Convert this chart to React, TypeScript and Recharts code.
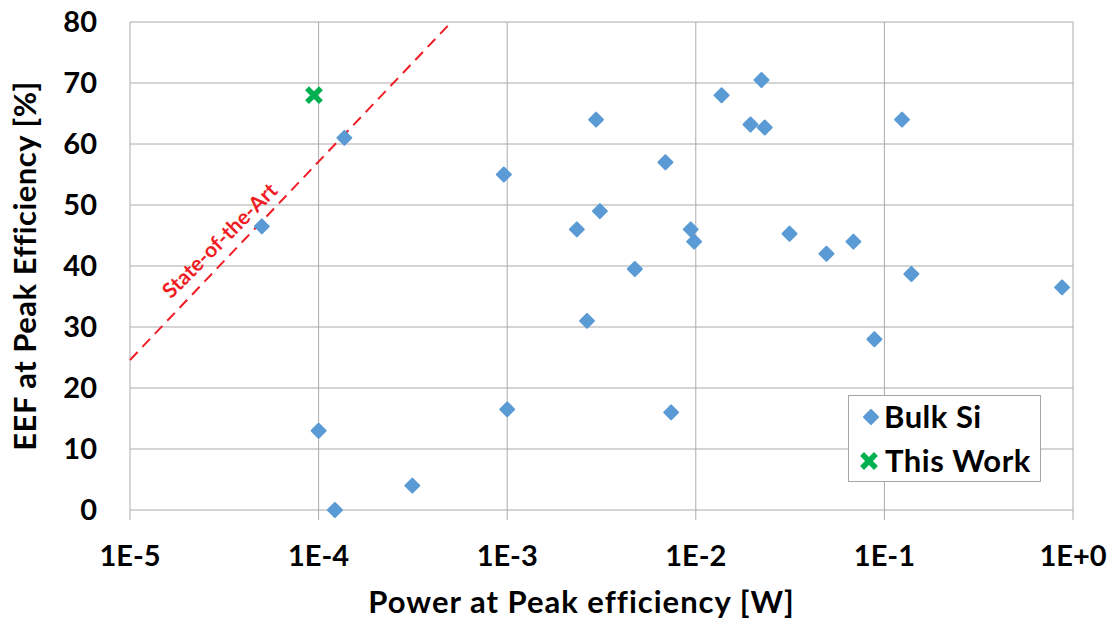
import React from "react";
import {
  ScatterChart,
  Scatter,
  XAxis,
  YAxis,
  CartesianGrid,
  Legend,
  ReferenceLine,
  ReferenceDot,
} from "recharts";

// Bulk Si points
const bulkPower = [
  5e-5, 1.37e-4, 1e-4, 1.22e-4, 3.14e-4, 9.6e-4, 1e-3, 2.34e-3, 2.65e-3, 2.96e-3,
  3.1e-3, 4.75e-3, 6.9e-3, 7.4e-3, 9.4e-3, 9.8e-3, 1.37e-2, 1.95e-2, 2.23e-2,
  2.32e-2, 3.14e-2, 4.93e-2, 6.85e-2, 8.85e-2, 0.124, 0.139, 0.875,
];
const bulkEef = [
  46.5, 61, 13, 0, 4, 55, 16.5, 46, 31, 64, 49, 39.5, 57, 16, 46, 44, 68, 63.2,
  70.5, 62.7, 45.3, 42, 44, 28, 64, 38.7, 36.5,
];

const thisWorkPower = [9.45e-5];
const thisWorkEef = [68];

const xTicks = [1e-5, 1e-4, 1e-3, 1e-2, 1e-1, 1];
const xTickLabels = ["1E-5", "1E-4", "1E-3", "1E-2", "1E-1", "1E+0"];
const yTicks = [0, 10, 20, 30, 40, 50, 60, 70, 80];

// state-of-the-art trend line (two ends) and where its label sits
const sotaLine = [
  { x: 1e-5, y: 24.6 },
  { x: 5.06e-4, y: 80 },
];
const sotaLabel = { x: 2.96e-5, y: 44.3, text: "State-of-the-Art" };

const bulkData = bulkPower.map((p, i) => ({ power: p, eef: bulkEef[i] }));
const thisWorkData = thisWorkPower.map((p, i) => ({ power: p, eef: thisWorkEef[i] }));

const BLUE = "#5B9BD5";
const GREEN = "#00B050";
const RED = "#f01c24";
const FONT = "Lato, 'Open Sans', sans-serif";

const Diamond = (p: any) => {
  const { cx, cy } = p;
  const s = 7;
  return (
    <path
      d={`M${cx},${cy - s}L${cx + s},${cy}L${cx},${cy + s}L${cx - s},${cy}Z`}
      fill={BLUE}
      stroke={BLUE}
      strokeWidth={2}
      strokeLinejoin="round"
    />
  );
};

const Cross = (p: any) => {
  const { cx, cy } = p;
  const s = 5;
  return (
    <g stroke={GREEN} strokeWidth={5.5} strokeLinecap="square">
      <line x1={cx - s} y1={cy - s} x2={cx + s} y2={cy + s} />
      <line x1={cx - s} y1={cy + s} x2={cx + s} y2={cy - s} />
    </g>
  );
};

const LegendBox = () => (
  <div
    style={{
      position: "relative",
      width: 193,
      height: 87,
      background: "#fff",
      border: "1px solid #a6a6a6",
      boxSizing: "border-box",
      fontFamily: FONT,
      fontWeight: 700,
      fontSize: 31,
      letterSpacing: 0.5,
      color: "#000",
    }}
  >
    <svg width={20} height={20} style={{ position: "absolute", left: 12, top: 11 }}>
      <Diamond cx={10} cy={10} />
    </svg>
    <div style={{ position: "absolute", left: 35, top: 1, lineHeight: "38px" }}>Bulk Si</div>
    <svg width={20} height={20} style={{ position: "absolute", left: 10, top: 55 }}>
      <Cross cx={10} cy={10} />
    </svg>
    <div style={{ position: "absolute", left: 36, top: 45, lineHeight: "38px" }}>This Work</div>
  </div>
);

export default function App() {
  return (
    <div style={{ position: "absolute", left: 0, top: 0, background: "#fff" }}>
      <ScatterChart
        width={1115}
        height={626}
        margin={{ top: 22, right: 42, bottom: 0, left: 0 }}
        style={{ fontFamily: FONT }}
      >
        <CartesianGrid stroke="#aaaaaa" strokeWidth={1} />
        <XAxis
          type="number"
          dataKey="power"
          scale="log"
          domain={[1e-5, 1]}
          ticks={xTicks}
          allowDataOverflow
          height={116}
          axisLine={false}
          tickLine={{ stroke: "#aaaaaa" }}
          tickSize={10}
          tickMargin={25}
          tickFormatter={(v: number) => xTickLabels[xTicks.indexOf(v)] ?? ""}
          tick={{ fill: "#000", fontSize: 29, fontWeight: 700, fontFamily: FONT }}
          label={{
            value: "Power at Peak efficiency [W]",
            position: "insideBottom",
            offset: 13,
            dx: -20,
            style: {
              fill: "#000",
              fontSize: 31,
              fontWeight: 700,
              fontFamily: FONT,
              letterSpacing: 1,
            },
          }}
        />
        <YAxis
          type="number"
          dataKey="eef"
          domain={[0, 80]}
          ticks={yTicks}
          width={130}
          axisLine={false}
          tickLine={false}
          tickSize={8}
          tickMargin={25}
          tick={{ fill: "#000", fontSize: 29, fontWeight: 700, fontFamily: FONT }}
          label={{
            value: "EEF at Peak Efficiency [%]",
            angle: -90,
            position: "insideLeft",
            offset: 25,
            style: {
              fill: "#000",
              fontSize: 31,
              fontWeight: 700,
              fontFamily: FONT,
              letterSpacing: 0.5,
              textAnchor: "middle",
            },
          }}
        />
        <ReferenceLine
          segment={sotaLine}
          stroke={RED}
          strokeWidth={2}
          strokeDasharray="11 7"
        />
        <ReferenceDot
          x={sotaLabel.x}
          y={sotaLabel.y}
          r={0}
          shape={(p: any) => (
            <text
              x={p.cx}
              y={p.cy}
              transform={`rotate(-45 ${p.cx} ${p.cy})`}
              textAnchor="middle"
              dominantBaseline="central"
              fill={RED}
              fontSize={21}
              fontWeight={700}
              fontFamily={FONT}
            >
              {sotaLabel.text}
            </text>
          )}
        />
        <Scatter
          name="Bulk Si"
          data={bulkData}
          shape={<Diamond />}
          isAnimationActive={false}
        />
        <Scatter
          name="This Work"
          data={thisWorkData}
          shape={<Cross />}
          isAnimationActive={false}
        />
        <Legend
          layout="horizontal"
          verticalAlign="middle"
          align="center"
          content={() => <LegendBox />}
          wrapperStyle={{ left: 848, top: 395, width: 193, height: 87 }}
        />
      </ScatterChart>
    </div>
  );
}
